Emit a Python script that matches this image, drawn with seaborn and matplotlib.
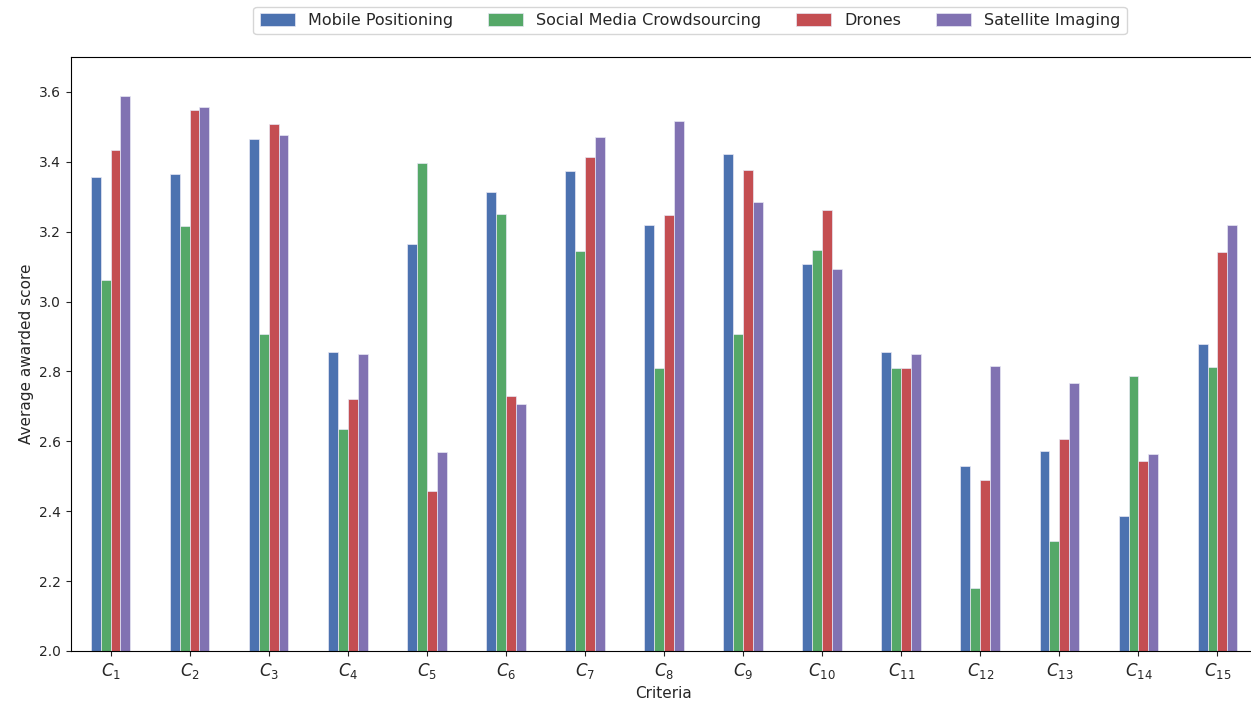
import matplotlib
matplotlib.use("Agg")
import matplotlib.pyplot as plt
import seaborn as sns
import pandas as pd

# Average awarded score per criterion for each data-collection technology
criteria = [f"$C_{{{i}}}$" for i in range(1, 16)]
methods = ["Mobile Positioning", "Social Media Crowdsourcing", "Drones", "Satellite Imaging"]

mobile_positioning = [3.357, 3.364, 3.464, 2.855, 3.165, 3.315, 3.375, 3.218,
                      3.421, 3.109, 2.855, 2.529, 2.573, 2.385, 2.878]
social_media = [3.062, 3.215, 2.906, 2.636, 3.396, 3.250, 3.144, 2.810,
                2.906, 3.147, 2.810, 2.181, 2.316, 2.786, 2.814]
drones = [3.435, 3.549, 3.507, 2.721, 2.459, 2.729, 3.413, 3.247,
          3.378, 3.261, 2.810, 2.488, 2.608, 2.545, 3.141]
satellite_imaging = [3.588, 3.556, 3.478, 2.849, 2.569, 2.708, 3.470, 3.516,
                     3.286, 3.094, 2.849, 2.817, 2.768, 2.565, 3.219]

colors = ["#4C72B0", "#55A868", "#C44E52", "#8172B2"]

series = [mobile_positioning, social_media, drones, satellite_imaging]
df = pd.DataFrame(
    [(c, m, v) for m, vals in zip(methods, series) for c, v in zip(criteria, vals)],
    columns=["Criteria", "Method", "Score"],
)

sns.set_style("ticks")
plt.rcParams["font.family"] = ["DejaVu Sans"]

fig = plt.figure(figsize=(12.51, 7.07), dpi=100)
ax = fig.add_axes([71 / 1251, 1 - 651 / 707, (1257 - 71) / 1251, (651 - 57) / 707])

sns.barplot(
    data=df, x="Criteria", y="Score", hue="Method", hue_order=methods,
    order=criteria, palette=colors, saturation=1, width=0.5, gap=0,
    errorbar=None, ax=ax, linewidth=0.5, edgecolor="#e8e8f4",
)

ax.set_ylim(2.0, 3.7)
ax.set_xlim(-0.5, len(criteria) - 0.5)
ax.set_yticks([2.0, 2.2, 2.4, 2.6, 2.8, 3.0, 3.2, 3.4, 3.6])
ax.tick_params(axis="x", labelsize=12)
ax.tick_params(axis="y", labelsize=10)
ax.set_xlabel("Criteria", fontsize=11)
ax.set_ylabel("Average awarded score", fontsize=11)
for side in ["top", "right", "left", "bottom"]:
    ax.spines[side].set_visible(True)
    ax.spines[side].set_color("black")

ax.legend(
    loc="center", bbox_to_anchor=(690 / 1251, 1 - 20.5 / 707),
    bbox_transform=fig.transFigure, ncol=4, fontsize=11.5,
    title=None, frameon=True, handlelength=2.2, handleheight=0.9,
    columnspacing=2.2,
)

fig.savefig("out.png", dpi=100)
